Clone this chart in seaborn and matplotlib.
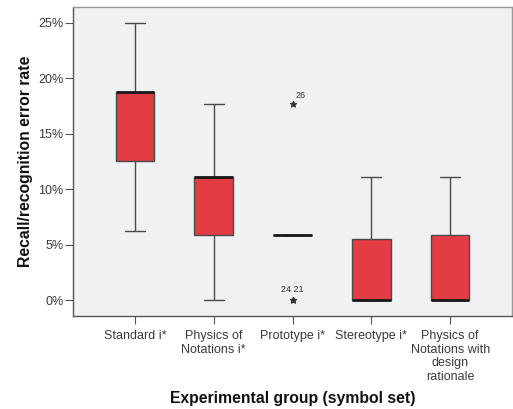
import matplotlib
matplotlib.use("Agg")
import matplotlib.pyplot as plt
import seaborn as sns
import pandas as pd
import numpy as np

groups = ["Standard i*", "Physics of\nNotations i*", "Prototype i*",
          "Stereotype i*", "Physics of\nNotations with\ndesign\nrationale"]
standard = [6.25, 12.5, 12.5, 18.75, 18.75, 18.75, 25.0]
physics = [0.0, 5.88, 5.88, 11.11, 11.11, 11.11, 17.65]
prototype = [0.0, 0.0, 5.88, 5.88, 5.88, 5.88, 5.88, 5.88, 5.88, 17.65]
stereotype = [0.0, 0.0, 0.0, 0.0, 5.56, 5.56, 11.11]
physics_dr = [0.0, 0.0, 0.0, 0.0, 5.88, 5.88, 11.11]
outlier_labels = [(2, 17.65, "26"), (2, 0.0, "24 21")]
yticks = [0, 5, 10, 15, 20, 25]

values = [standard, physics, prototype, stereotype, physics_dr]
df = pd.DataFrame({
    "group": [g for g, v in zip(groups, values) for _ in v],
    "rate": [x for v in values for x in v],
})

sns.set_theme(style="white")
plt.rcParams['font.family'] = ['Liberation Sans', 'DejaVu Sans']

fig = plt.figure(figsize=(5.13, 4.09), dpi=100)
ax = fig.add_axes([73/513, 1-316/409, 439/513, 309/409])
ax.set_facecolor("#F0F1F3")

edge = "#4a4a4a"
sns.boxplot(data=df, x="group", y="rate", order=groups, ax=ax,
            color="#E33C44", saturation=1, width=0.49, whis=1.5,
            linecolor=edge, linewidth=1.0,
            boxprops=dict(edgecolor=edge, facecolor="#E33C44"),
            medianprops=dict(color="#1a1a1a", linewidth=2.0),
            whiskerprops=dict(color=edge), capprops=dict(color=edge),
            capwidths=0.25,
            flierprops=dict(marker=(5, 1, 0), markersize=5, markerfacecolor="#333333",
                            markeredgecolor="#333333", markeredgewidth=0.5, linestyle="none"))

ax.text(2 + 0.04, 17.65 + 0.35, outlier_labels[0][2], fontsize=6.5, color="#333333",
        ha="left", va="bottom")
ax.text(2, 0.0 + 0.55, outlier_labels[1][2], fontsize=6.5, color="#333333",
        ha="center", va="bottom")

ax.set_xlim(-0.785, 4.785)
ax.set_ylim(-1.4, 26.4)
ax.set_yticks(yticks)
ax.set_yticklabels([f"{v}%" for v in yticks])
ax.tick_params(axis="both", which="both", length=5.5, width=0.8, color="#555555",
               labelsize=9, labelcolor="#3a3a3a", direction="out", bottom=True, left=True, pad=1.5)
ax.tick_params(axis="x", pad=4.5)
for s in ["left", "bottom"]:
    ax.spines[s].set_color("#555555")
    ax.spines[s].set_linewidth(1.0)
for s in ["top", "right"]:
    ax.spines[s].set_color("#999999")
    ax.spines[s].set_linewidth(1.0)

ax.set_xlabel("Experimental group (symbol set)", fontsize=11.3, fontweight="bold", color="#111111")
ax.set_ylabel("Recall/recognition error rate", fontsize=11.3, fontweight="bold", color="#111111")
ax.xaxis.set_label_coords(0.5, -0.243)
ax.yaxis.set_label_coords(-0.092, 0.5)

fig.savefig("out.png", dpi=100)
